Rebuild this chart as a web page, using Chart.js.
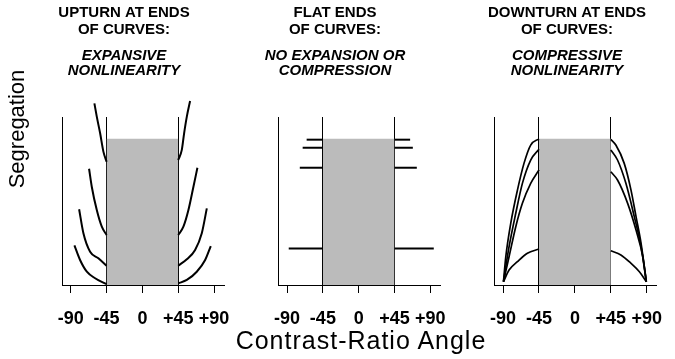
<!DOCTYPE html>
<html>
<head>
<meta charset="utf-8">
<script src="https://cdn.jsdelivr.net/npm/chart.js@4.4.0/dist/chart.umd.min.js"></script>
<style>
  body { margin:0; background:#fff; width:675px; height:359px; overflow:hidden; position:relative;
         font-family:'Liberation Sans', Arial, sans-serif; color:#000; }
  canvas { position:absolute; top:0; }
  #ylab { position:absolute; left:-83px; top:118px; width:200px; height:22px; line-height:22px;
          font-size:22px; text-align:center; transform:rotate(-90deg); }
  #xlab { position:absolute; left:211px; top:328px; width:300px; line-height:25px;
          font-size:25px; letter-spacing:1px; text-align:center; }
</style>
</head>
<body>
<canvas id="p1" width="248" height="359" style="left:0px"></canvas>
<canvas id="p2" width="262" height="359" style="left:204px"></canvas>
<canvas id="p3" width="242" height="359" style="left:446px"></canvas>
<div id="ylab">Segregation</div>
<div id="xlab">Contrast-Ratio Angle</div>
<script>
const angleTicks = [-90, -45, 0, 45, 90];
const angleLabels = ['-90', '-45', '0', '+45', '+90'];
const bandEdges = [-45, 45];
const bandHeight = 87;

const titles = [
  ['UPTURN AT ENDS', 'OF CURVES:'],
  ['FLAT ENDS', 'OF CURVES:'],
  ['DOWNTURN AT ENDS', 'OF CURVES:']
];
const subtitles = [
  ['EXPANSIVE', 'NONLINEARITY'],
  ['NO EXPANSION OR', 'COMPRESSION'],
  ['COMPRESSIVE', 'NONLINEARITY']
];

// expansive: left arms outer -> inner, right arms inner -> outer
const expLeftX = [
  [-60.3, -57.3, -53.1, -49, -45],
  [-67, -63.6, -57.3, -51, -45],
  [-79.5, -74.1, -65.7, -55.3, -45],
  [-85.4, -78.3, -69.8, -59.4, -45]
];
const expLeftY = [
  [108.1, 100.2, 90.3, 79.4, 73.4],
  [69.2, 58.5, 44.6, 34.7, 29.8],
  [45.1, 30.8, 19.8, 15.9, 11.5],
  [23.6, 14.9, 7.9, 4.0, 0.5]
];
const expRightX = [
  [45, 49.5, 52.4, 55.8, 59.9],
  [45, 51.5, 57.8, 64.1, 69.1],
  [45, 55.8, 66.2, 74.6, 80.9],
  [45, 55.8, 68.3, 78.8, 85.9]
];
const expRightY = [
  [74.4, 80.4, 90.3, 100.2, 109.5],
  [29.8, 34.7, 44.6, 58.5, 69.8],
  [11.5, 15.3, 20.8, 30.8, 45.6],
  [1.0, 3.0, 7.9, 14.9, 23.2]
];

// flat
const flatLevels = [86.5, 81.7, 69.8, 21.8];
const flatLeftEnds = [-65.4, -70.4, -74, -87.9];
const flatRightEnds = [64.6, 68, 73, 94.3];

// compressive
const compLeftX = [
  [-89.5, -86.6, -80.4, -72, -63.8, -55.4, -45],
  [-89.5, -82.5, -74.1, -65.8, -55.4, -45],
  [-89.5, -82.5, -74.1, -65.8, -55.4, -45],
  [-89.5, -82.5, -72, -59.5, -45]
];
const compLeftY = [
  [2, 16.8, 36.7, 56.5, 72.4, 83.3, 87],
  [2, 22.8, 42.7, 60.5, 74.4, 80.8],
  [2, 16.8, 34.7, 48.6, 60.5, 68.5],
  [2, 8.9, 13.9, 18.9, 21.4]
];
const compRightX = [
  [45, 51.3, 61.8, 70.3, 76.6, 82.9, 89.5],
  [45, 53.4, 63.9, 74.4, 82.9, 89.5],
  [45, 53.4, 66.1, 76.6, 85.1, 89.5],
  [45, 57.6, 70.3, 80.8, 89.5]
];
const compRightY = [
  [86.7, 83.3, 72.4, 56.5, 40.7, 24.8, 2],
  [80.4, 74.4, 60.5, 40.7, 22.8, 2],
  [67.4, 62.5, 48.6, 32.7, 16.8, 2],
  [20.4, 17.9, 12.9, 7.9, 2]
];

Chart.defaults.font.family = "'Liberation Sans', Arial, sans-serif";
Chart.defaults.color = '#000';

function pts(xs, ys) {
  return xs.map((x, i) => ({ x: x, y: ys[i] }));
}

function curve(xs, ys, w) {
  return {
    data: pts(xs, ys), borderColor: '#000', borderWidth: w, pointRadius: 0,
    fill: false, cubicInterpolationMode: 'monotone', clip: false, order: 0
  };
}

function band() {
  return {
    data: pts(bandEdges, [bandHeight, bandHeight]), borderColor: 'rgba(0,0,0,0)', borderWidth: 0,
    backgroundColor: '#bbbbbb', fill: 'origin', pointRadius: 0, order: 5
  };
}

function makeChart(id, idx, datasets, yw, rw) {
  new Chart(document.getElementById(id), {
    type: 'line',
    data: { datasets: datasets },
    options: {
      responsive: false,
      animation: false,
      events: [],
      // x axis box counts tick padding twice, so bottom pad is 359-285-8-30-21.6
      layout: { padding: { bottom: 14.4 } },
      plugins: {
        legend: { display: false },
        tooltip: { enabled: false },
        title: {
          display: true, text: titles[idx], color: '#000',
          font: { size: 15, weight: 'bold', lineHeight: 1.1 },
          padding: { top: 5, bottom: 0 }
        },
        subtitle: {
          display: true, text: subtitles[idx], color: '#000',
          font: { size: 15, weight: 'bold', style: 'italic', lineHeight: 1 },
          padding: { top: 10, bottom: 39 }
        }
      },
      scales: {
        x: {
          type: 'linear', min: -101, max: 102.5, z: 1,
          afterBuildTicks: s => { s.ticks = angleTicks.map(v => ({ value: v })); },
          ticks: {
            autoSkip: false, maxRotation: 0, padding: 15, color: '#000',
            font: { size: 18, weight: 'bold' },
            callback: v => angleLabels[angleTicks.indexOf(v)]
          },
          grid: {
            color: c => (c.tick && Math.abs(c.tick.value) === 45) ? '#000' : 'rgba(0,0,0,0)',
            tickColor: '#000', tickLength: 8, lineWidth: 1
          },
          border: { color: '#000', width: 1 }
        },
        y: {
          min: 0, max: 100, position: 'left',
          ticks: { display: false }, grid: { display: false },
          border: { color: '#000', width: 1 },
          afterFit: s => { s.width = yw; }
        },
        yr: {
          position: 'right',
          ticks: { display: false }, grid: { display: false }, border: { display: false },
          afterFit: s => { s.width = rw; }
        }
      }
    }
  });
}

// panel 1
const ds1 = [band()];
expLeftX.forEach((xs, i) => ds1.push(curve(xs, expLeftY[i], 2)));
expRightX.forEach((xs, i) => ds1.push(curve(xs, expRightY[i], 2)));
makeChart('p1', 0, ds1, 62, 24);

// panel 2
const ds2 = [band()];
flatLevels.forEach((lv, i) => {
  ds2.push(curve([flatLeftEnds[i], -45], [lv, lv], 2));
  ds2.push(curve([45, flatRightEnds[i]], [lv, lv], 2));
});
makeChart('p2', 1, ds2, 74.3, 25.7);

// panel 3
const ds3 = [band()];
compLeftX.forEach((xs, i) => ds3.push(curve(xs, compLeftY[i], 1.7)));
compRightX.forEach((xs, i) => ds3.push(curve(xs, compRightY[i], 1.7)));
makeChart('p3', 2, ds3, 48.3, 31.3);
</script>
</body>
</html>
